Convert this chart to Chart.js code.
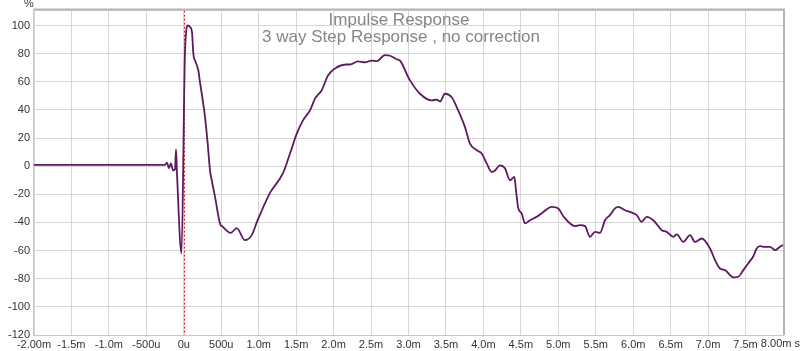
<!DOCTYPE html>
<html>
<head>
<meta charset="utf-8">
<script src="https://cdn.jsdelivr.net/npm/chart.js@4/dist/chart.umd.min.js"></script>
<style>
  html, body { margin: 0; padding: 0; background: #fff; }
  #wrap { width: 800px; height: 351px; }
</style>
</head>
<body>
<div id="wrap"><canvas id="chart" width="800" height="351"></canvas></div>
<script>
// time in ms, step response in %
const timeMs = [
  -2.0, -0.251, -0.224, -0.198, -0.171, -0.144, -0.117, -0.104, -0.091, -0.031,
  0.016, 0.056, 0.083, 0.11, 0.127, 0.152, 0.194, 0.216, 0.247, 0.283,
  0.319, 0.35, 0.373, 0.417, 0.483, 0.519, 0.626, 0.706, 0.817, 0.907,
  0.977, 1.151, 1.324, 1.418, 1.507, 1.591, 1.685, 1.752, 1.841, 1.925,
  2.019, 2.175, 2.219, 2.326, 2.419, 2.509, 2.575, 2.686, 2.753, 2.843,
  2.887, 3.02, 3.154, 3.31, 3.377, 3.421, 3.487, 3.577, 3.644, 3.754,
  3.821, 3.911, 3.977, 4.044, 4.111, 4.155, 4.222, 4.288, 4.355, 4.413,
  4.435, 4.466, 4.511, 4.555, 4.622, 4.712, 4.8, 4.912, 5.0, 5.067,
  5.223, 5.29, 5.357, 5.423, 5.49, 5.557, 5.624, 5.69, 5.757, 5.801,
  5.891, 5.957, 6.047, 6.113, 6.18, 6.268, 6.381, 6.447, 6.536, 6.581,
  6.669, 6.759, 6.825, 6.915, 7.026, 7.093, 7.159, 7.226, 7.337, 7.403,
  7.47, 7.537, 7.604, 7.648, 7.693, 7.737, 7.827, 7.893, 7.96, 8.0
];
const stepPct = [
  1, 1, 2.5, -1.5, 2, -3, -2, 12, -5, -62,
  81, 100, 99, 95, 80, 75, 68, 59.8, 49, 35,
  16, -3, -10, -21.8, -40.7, -43, -47.4, -44, -52.6, -49,
  -39.6, -19, -5, 9, 23, 32.6, 39.7, 48, 54, 64.5,
  69.5, 72.3, 72.3, 74.5, 73.8, 75, 74.7, 78.9, 78.5, 76,
  75, 61, 51.5, 46.8, 47.3, 46, 51.5, 49, 42, 27.8,
  16, 11.3, 9, 2, -4, -3, 0.6, -1.5, -10, -7.6,
  -17, -29.9, -33.6, -40.7, -38.4, -36, -32.5, -28.9, -30, -35.6,
  -42.6, -41.9, -42.6, -50.2, -46.7, -47.4, -38.4, -34.8, -30, -28.9,
  -31.3, -32.5, -34.8, -39.6, -36, -38.4, -45.5, -46.7, -50.2, -48.5,
  -53.8, -49, -53.8, -51.4, -58.5, -66.8, -72.7, -73.9, -79, -78.6,
  -73.9, -69, -64, -58.5, -56.8, -57.3, -57.3, -59.7, -57.3, -56
];
const yTicks = [100, 80, 60, 40, 20, 0, -20, -40, -60, -80, -100, -120];
const xTickLabels = {
  '-2': '-2.00m', '-1.5': '-1.5m', '-1': '-1.0m', '-0.5': '-500u', '0': '0u',
  '0.5': '500u', '1': '1.0m', '1.5': '1.5m', '2': '2.0m', '2.5': '2.5m',
  '3': '3.0m', '3.5': '3.5m', '4': '4.0m', '4.5': '4.5m', '5': '5.0m',
  '5.5': '5.5m', '6': '6.0m', '6.5': '6.5m', '7': '7.0m', '7.5': '7.5m'
};
const lastXLabel = '8.00m s';
const titleText = 'Impulse Response';
const subtitleText = '3 way Step Response , no correction';

const points = timeMs.map((t, i) => ({ x: t, y: stepPct[i] }));
const fontFam = '"Liberation Sans", Arial, sans-serif';

const decorPlugin = {
  id: 'decor',
  beforeDatasetsDraw(chart) {
    const { ctx, chartArea: a, scales } = chart;
    // titles sit inside the plot
    ctx.save();
    ctx.fillStyle = '#858585';
    ctx.font = '17px ' + fontFam;
    ctx.textAlign = 'center';
    ctx.textBaseline = 'alphabetic';
    ctx.fillText(titleText, 399, 25);
    ctx.fillText(subtitleText, 401, 42);
    // red dotted line at t = 0
    const x0 = Math.round(scales.x.getPixelForValue(0)) + 0.5;
    ctx.strokeStyle = '#d02020';
    ctx.lineWidth = 1;
    ctx.setLineDash([2, 2]);
    ctx.beginPath();
    ctx.moveTo(x0, a.top);
    ctx.lineTo(x0, a.bottom);
    ctx.stroke();
    ctx.restore();
  },
  afterDraw(chart) {
    const { ctx, chartArea: a } = chart;
    ctx.save();
    // frame, heavier on top and right
    ctx.strokeStyle = '#c8c8c8';
    ctx.lineWidth = 1;
    ctx.strokeRect(a.left - 0.5, a.top - 0.5, a.right - a.left + 1, a.bottom - a.top + 1);
    ctx.strokeStyle = '#b4b4b4';
    ctx.lineWidth = 2;
    ctx.beginPath();
    ctx.moveTo(a.left, a.top - 1);
    ctx.lineTo(a.right + 1, a.top - 1);
    ctx.lineTo(a.right + 1, a.bottom);
    ctx.stroke();
    // unit labels
    ctx.fillStyle = '#333';
    ctx.font = '11px ' + fontFam;
    ctx.textBaseline = 'middle';
    ctx.textAlign = 'left';
    ctx.fillText('%', 24, 4);
    ctx.textAlign = 'right';
    ctx.fillText(lastXLabel, 800, 344);
    ctx.restore();
  }
};

new Chart(document.getElementById('chart'), {
  type: 'line',
  data: {
    datasets: [{
      data: points,
      borderColor: '#5c1a60',
      borderWidth: 1.8,
      pointRadius: 0,
      fill: false,
      cubicInterpolationMode: 'monotone'
    }]
  },
  options: {
    responsive: false,
    animation: false,
    parsing: false,
    layout: { padding: { top: 10, right: 17, left: 0, bottom: 0 } },
    plugins: { legend: { display: false }, tooltip: { enabled: false } },
    scales: {
      x: {
        type: 'linear',
        min: -2, max: 8,
        grid: { color: '#d6d6d6', drawTicks: false },
        border: { display: false },
        afterFit(s) { s.height = 16; },
        ticks: {
          stepSize: 0.5,
          padding: 3,
          maxRotation: 0,
          autoSkip: false,
          color: '#333',
          font: { family: fontFam, size: 11 },
          callback: v => xTickLabels[String(v)] || ''
        }
      },
      y: {
        min: -120, max: 110.6,
        grid: { color: '#d6d6d6', drawTicks: false },
        border: { display: false },
        afterBuildTicks(s) { s.ticks = yTicks.map(v => ({ value: v })); },
        afterFit(s) { s.width = 34; },
        ticks: {
          padding: 4,
          color: '#333',
          font: { family: fontFam, size: 11 }
        }
      }
    }
  },
  plugins: [decorPlugin]
});
</script>
</body>
</html>
